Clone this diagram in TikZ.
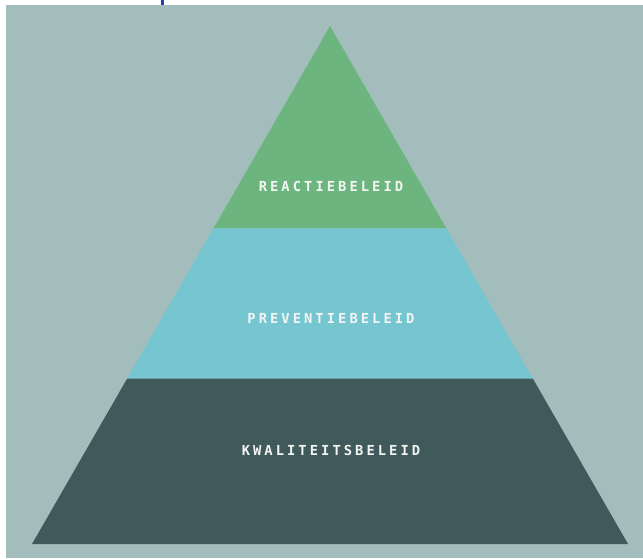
\documentclass[tikz,border=0pt]{standalone}
\usepackage{fontspec}
\newfontfamily\layerfont[LetterSpace=22]{DejaVu Sans Mono}
\usetikzlibrary{positioning,calc}
\definecolor{bgcol}{HTML}{A3BCBC}
\definecolor{topcol}{HTML}{6DB57F}
\definecolor{midcol}{HTML}{75C6D0}
\definecolor{basecol}{HTML}{405A5B}
\definecolor{textcol}{HTML}{F2F5F2}
\definecolor{markcol}{HTML}{1F44B0}

\begin{document}
\begin{tikzpicture}[
    x=1pt,y=-1pt,
    every node/.style = {inner sep=0pt,outer sep=0pt},
    layer/.style = {text=textcol,font=\layerfont\bfseries\fontsize{13.8}{16}\selectfont},
    ]
    \useasboundingbox (0,0) rectangle (643,558);
    \fill[white] (0,0) rectangle (643,558);
    \fill[bgcol] (5.5,5) rectangle (643,558);
    \fill[markcol] (161,0) rectangle (164,5);
    \coordinate (apex) at (330,26);
    \coordinate (base-left) at (32,544);
    \coordinate (base-right) at (628,544);
    \coordinate (top-left) at ($(apex)!.3907!(base-left)$);
    \coordinate (top-right) at ($(apex)!.3907!(base-right)$);
    \coordinate (mid-left) at ($(apex)!.6808!(base-left)$);
    \coordinate (mid-right) at ($(apex)!.6808!(base-right)$);
    \fill[topcol] (apex) -- (top-left) -- (top-right) -- cycle;
    \fill[midcol] (top-left) -- (mid-left) -- (mid-right) -- (top-right) -- cycle;
    \fill[basecol] (mid-left) -- (base-left) -- (base-right) -- (mid-right) -- cycle;
    \node[layer] (reactie) at (331,186) {REACTIEBELEID};
    \node[layer] (preventie) at (331,318) {PREVENTIEBELEID};
    \node[layer] (kwaliteit) at (331,450) {KWALITEITSBELEID};
\end{tikzpicture}
\end{document}
